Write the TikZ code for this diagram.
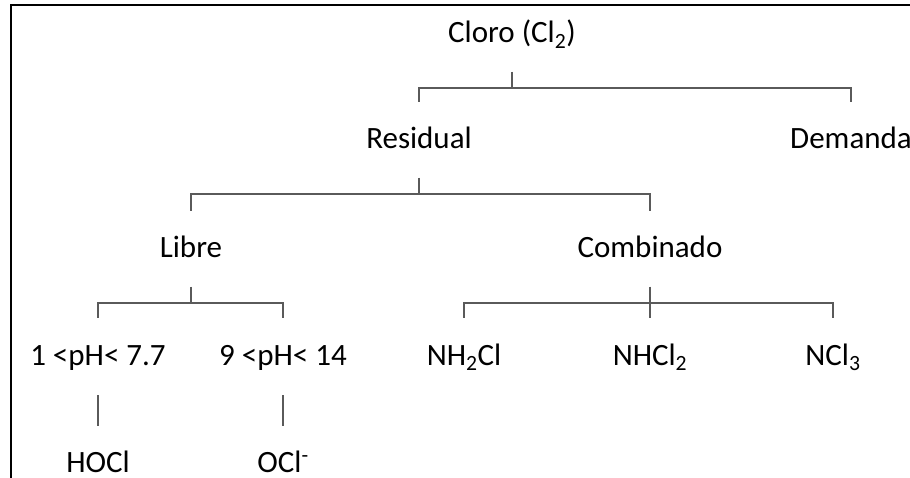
\documentclass[tikz,border=0pt]{standalone}
\usepackage{fontspec}
\setmainfont{Carlito}
\usetikzlibrary{positioning}

\begin{document}
\begin{tikzpicture}[x=1pt, y=-1pt, semithick]
%====Definizione colori===============================================================
	\definecolor{grigio}{RGB}{90,90,90}
%====Definizione stili===============================================================
	\tikzstyle{voce}=[anchor=base, inner sep=0pt, font=\fontsize{31}{37}\selectfont]
	\tikzstyle{rama}=[draw, grigio, line width=1.2pt, to path={([yshift=-29pt]\tikztostart.base) -- ++(0,16) -| ([yshift=47pt]\tikztotarget.base)}]
	\tikzstyle{linea}=[draw, grigio, line width=1.2pt, to path={([yshift=-30pt]\tikztostart.base) -- ([yshift=46pt]\tikztotarget.base)}]
	\tikzstyle{marco}=[draw, black, line width=1.8pt]
%====Area e cornice===============================================================
	\useasboundingbox (0,0) rectangle (910,478);
	\draw[marco] (11,478) |- (910,5);
%====Nodi===============================================================
	\node[voce] (cloro)     at (512,43)  {Cloro (Cl\textsubscript{2})};
	\node[voce] (residual)  at (419,149) {Residual};
	\node[voce] (demanda)   at (851,149) {Demanda};
	\node[voce] (libre)     at (191,258) {Libre};
	\node[voce] (combinado) at (650,258) {Combinado};
	\node[voce] (phbajo)    at (98,365)  {1 <pH< 7.7};
	\node[voce] (phalto)    at (283,365) {9 <pH< 14};
	\node[voce] (nhcl)      at (464,365) {NH\textsubscript{2}Cl};
	\node[voce] (nhcldos)   at (650,365) {NHCl\textsubscript{2}};
	\node[voce] (ncl)       at (833,365) {NCl\textsubscript{3}};
	\node[voce] (hocl)      at (98,472)  {HOCl};
	\node[voce] (ocl)       at (283,472) {OCl\textsuperscript{-}};
%====Collegamenti===============================================================
		%from        stile         to
	\path (cloro)     edge[rama]    (residual)
	      (cloro)     edge[rama]    (demanda)
	      (residual)  edge[rama]    (libre)
	      (residual)  edge[rama]    (combinado)
	      (libre)     edge[rama]    (phbajo)
	      (libre)     edge[rama]    (phalto)
	      (combinado) edge[rama]    (nhcl)
	      (combinado) edge[rama]    (nhcldos)
	      (combinado) edge[rama]    (ncl)
	      (phbajo)    edge[linea]   (hocl)
	      (phalto)    edge[linea]   (ocl);
\end{tikzpicture}
\end{document}
